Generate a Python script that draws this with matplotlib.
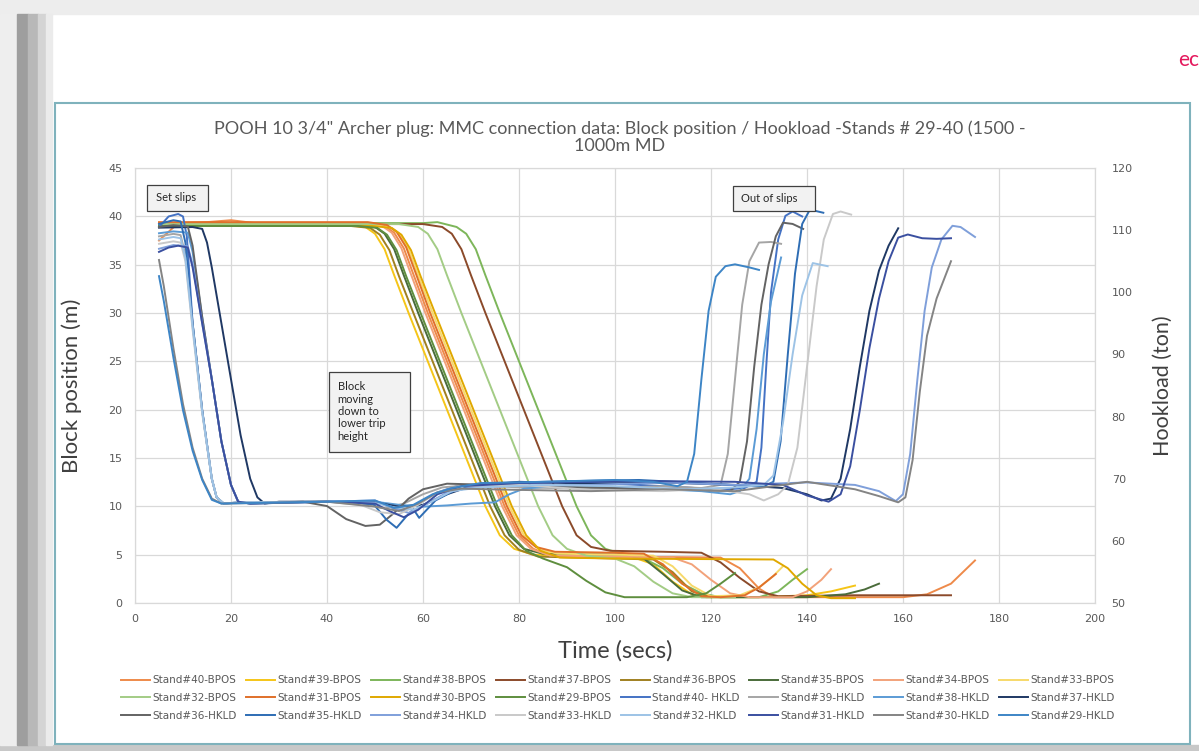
import matplotlib
matplotlib.use("Agg")
import matplotlib.pyplot as plt
from matplotlib.patches import Rectangle
from matplotlib.lines import Line2D

# ---- data: block position (m) per stand ----
t_bpos40 = [5, 7, 9, 15, 20, 25, 48, 52, 54, 56, 58, 61, 69, 77, 80, 83, 87, 100, 122, 126, 130, 133, 160, 165, 170, 175]
bpos40 = [37.5, 38.4, 39.3, 39.4, 39.6, 39.3, 39.3, 39.0, 38.3, 36.7, 34.0, 30.0, 20.0, 10.0, 7.0, 5.6, 4.9, 4.8, 4.7, 3.6, 1.5, 0.6, 0.6, 0.9, 2.0, 4.4]
t_bpos39 = [5, 44, 48, 50, 52, 54, 57, 65, 73, 76, 79, 83, 95, 104, 108, 112, 116, 119, 130, 140, 145, 150]
bpos39 = [39.1, 39.1, 38.9, 38.2, 36.6, 33.9, 30.0, 20.0, 10.0, 7.0, 5.6, 5.0, 4.8, 4.7, 4.0, 2.2, 0.9, 0.6, 0.6, 0.8, 1.2, 1.8]
t_bpos38 = [5, 60, 63, 67, 69, 71, 73, 76, 84, 92, 95, 98, 102, 106, 110, 114, 118, 122, 130, 134, 137, 140]
bpos38 = [39.3, 39.3, 39.4, 38.9, 38.2, 36.6, 33.9, 30.0, 20.0, 10.0, 7.0, 5.6, 5.0, 4.6, 3.6, 2.0, 1.0, 0.6, 0.6, 1.2, 2.4, 3.5]
t_bpos37 = [5, 60, 64, 66, 68, 70, 73, 81, 89, 92, 95, 99, 110, 118, 122, 126, 130, 134, 150, 170]
bpos37 = [39.2, 39.2, 38.9, 38.2, 36.6, 33.9, 30.0, 20.0, 10.0, 7.0, 5.8, 5.4, 5.3, 5.2, 4.2, 2.6, 1.2, 0.7, 0.8, 0.8]
t_bpos36 = [5, 45, 49, 51, 53, 55, 58, 66, 74, 77, 80, 84, 100, 108, 112, 116, 120]
bpos36 = [39.0, 39.0, 38.8, 38.1, 36.5, 33.8, 30.0, 20.0, 10.0, 7.0, 5.5, 4.8, 4.6, 4.5, 3.2, 1.2, 0.6]
t_bpos35 = [5, 46, 50, 52, 54, 56, 59, 67, 75, 78, 81, 85, 102, 106, 110, 114, 118, 140, 148, 152, 155]
bpos35 = [39.2, 39.2, 38.9, 38.2, 36.6, 33.9, 30.0, 20.0, 10.0, 7.0, 5.6, 5.1, 5.0, 4.6, 3.0, 1.3, 0.6, 0.6, 0.9, 1.4, 2.0]
t_bpos34 = [5, 47.5, 51.5, 53.5, 55.5, 57.5, 60.5, 68.5, 76.5, 79.5, 82.5, 86.5, 100, 112, 116, 120, 124, 128, 137, 140, 143, 145]
bpos34 = [39.3, 39.3, 39.0, 38.3, 36.7, 34.0, 30.0, 20.0, 10.0, 7.0, 5.6, 4.9, 4.8, 4.7, 4.0, 2.4, 1.0, 0.6, 0.6, 1.2, 2.4, 3.5]
t_bpos33 = [5, 49, 53, 55, 57, 59, 62, 70, 78, 81, 84, 88, 100, 108, 112, 116, 120, 126, 130, 133, 135]
bpos33 = [39.1, 39.1, 38.9, 38.2, 36.6, 33.9, 30.0, 20.0, 10.0, 7.0, 5.6, 5.1, 5.0, 4.9, 3.8, 1.8, 0.7, 0.8, 1.6, 2.8, 3.8]
t_bpos32 = [5, 55, 59, 61, 63, 65, 68, 76, 84, 87, 90, 94, 100, 104, 108, 112, 116, 125]
bpos32 = [39.2, 39.2, 38.9, 38.2, 36.6, 33.9, 30.0, 20.0, 10.0, 7.0, 5.6, 4.9, 4.6, 3.8, 2.2, 1.0, 0.6, 0.6]
t_bpos31 = [5, 48.5, 52.5, 54.5, 56.5, 58.5, 61.5, 69.5, 77.5, 80.5, 83.5, 87.5, 100, 106, 110, 114, 118, 122, 127, 130, 133.5]
bpos31 = [39.4, 39.4, 39.1, 38.4, 36.8, 34.1, 30.0, 20.0, 10.0, 7.0, 5.8, 5.3, 5.2, 5.1, 4.0, 2.0, 0.7, 0.6, 0.8, 1.6, 3.0]
t_bpos30 = [5, 49.5, 53.5, 55.5, 57.5, 59.5, 62.5, 70.5, 78.5, 81.5, 84.5, 88.5, 100, 133, 136, 139, 142, 145, 150]
bpos30 = [39.0, 39.0, 38.8, 38.1, 36.5, 33.8, 30.0, 20.0, 10.0, 7.0, 5.4, 4.7, 4.6, 4.5, 3.6, 2.0, 0.8, 0.5, 0.5]
t_bpos29 = [5, 46.5, 50.5, 52.5, 54.5, 56.5, 59.5, 67.5, 75.5, 78.5, 81.5, 85, 90, 94, 98, 102, 115, 119, 122, 125]
bpos29 = [39.0, 39.0, 38.8, 38.1, 36.5, 33.8, 30.0, 20.0, 10.0, 7.0, 5.4, 4.6, 3.7, 2.3, 1.1, 0.6, 0.6, 1.0, 2.0, 3.1]

# ---- data: hookload (ton) per stand ----
t_hkld40 = [5, 7, 9, 10, 10.8, 12, 14, 16, 17, 18.5, 22, 40, 50, 53, 56, 59, 63, 67, 75, 90, 105, 115, 122, 127, 129.5, 130.5, 131.5, 132.5, 134, 135.5, 137, 139]
hkld40 = [110.5, 112.2, 112.6, 112.2, 109, 95, 81, 70, 67, 66, 66.2, 66.3, 66.4, 65.5, 64.8, 66, 67.8, 68.8, 69.2, 69.5, 69.0, 68.6, 68.2, 68.5, 69.5, 75, 88, 100, 108.5, 112.3, 113, 112.2]
t_hkld39 = [5, 8, 9.5, 10.5, 12, 14, 16, 17, 18.5, 22, 40, 48, 52, 56, 60, 64, 70, 80, 95, 110, 118, 122, 123.5, 125, 126.5, 128, 130, 132.5, 134.6]
hkld39 = [109.0, 109.4, 109.2, 106, 95, 81, 70, 67, 66, 66.2, 66.3, 66.0, 65.2, 66.0, 67.5, 68.6, 69.0, 68.6, 68.4, 68.8, 68.5, 69, 74, 86, 98, 105, 108, 108.1, 107.8]
t_hkld38 = [5, 8, 11, 12, 14, 16, 18, 20, 21.5, 24, 40, 50, 55, 60, 65, 70, 75, 78, 81, 90, 105, 118, 124, 126, 128, 129.5, 131, 132.5, 134.6]
hkld38 = [109.5, 109.8, 109.6, 106.5, 96, 86, 76, 69, 66.3, 66.0, 66.3, 66.3, 65.8, 65.5, 65.7, 66.0, 66.2, 67.5, 68.4, 69.0, 68.5, 68.0, 67.5, 68, 70, 78, 90, 98.5, 105.6]
t_hkld37 = [5, 12, 14, 15, 16, 18, 20, 22, 24, 25.5, 27, 30, 40, 50, 55, 60, 65, 70, 80, 95, 110, 125, 135, 140, 143, 145, 147, 149, 151, 153, 155, 157, 159]
hkld37 = [110.4, 110.5, 110.2, 108, 104, 95, 86, 77, 70, 67, 66, 66.3, 66.3, 66.2, 65.5, 65.8, 67.5, 68.8, 69.5, 69.2, 69.4, 69.0, 68.5, 67.5, 66.5, 66.8, 70, 78, 88, 97, 103.5, 107.5, 110.3]
t_hkld36 = [5, 8, 11, 12, 14, 16, 18, 20, 21.5, 24, 35, 40, 44, 48, 51, 54, 57, 60, 65, 75, 90, 105, 118, 124, 126, 127.5, 129, 130.5, 132, 133.5, 135, 137, 139.2]
hkld36 = [110.5, 110.8, 110.6, 107.5, 96, 86, 76, 69, 66.3, 66.0, 66.3, 65.6, 63.5, 62.4, 62.6, 64.5, 66.8, 68.3, 69.2, 69.0, 68.7, 68.4, 68.2, 68, 69.5, 76, 88, 98, 104.5, 109, 111.2, 111, 110.2]
t_hkld35 = [5, 8, 9.5, 10.5, 12, 14, 16, 17, 18.5, 22, 40, 49.7, 52.4, 54.5, 56.6, 58, 59.2, 62.6, 66.8, 75, 90, 105, 120, 128, 131, 133, 134.5, 136, 137.5, 139, 140.6, 143.4]
hkld35 = [111.0, 111.6, 111.4, 108, 95, 81, 70, 67, 66, 66.2, 66.3, 65.9, 63.4, 62.1, 64.0, 65.1, 63.7, 66.5, 68.2, 69.3, 69.6, 69.8, 69.2, 68.8, 68.8, 69.5, 76, 90, 103, 111, 113.3, 112.8]
t_hkld34 = [5, 8, 11, 12, 14, 16, 18, 20, 21.5, 24, 40, 50, 53, 57, 61, 65, 70, 80, 95, 110, 125, 140, 150, 155, 158.5, 160, 161.5, 163, 164.5, 166, 168, 170.3, 172, 175]
hkld34 = [107.0, 107.6, 107.4, 104.5, 95, 86, 76, 69, 66.3, 66.0, 66.3, 66.5, 65.5, 64.5, 66.0, 67.8, 68.6, 68.9, 69.0, 69.4, 69.0, 69.4, 69.0, 68.0, 66.4, 67.5, 74, 86, 97, 104, 108.5, 110.7, 110.5, 108.9]
t_hkld33 = [5, 8, 9.5, 10.5, 12, 14, 16, 17, 18.5, 22, 40, 47, 51, 55, 59, 63, 68, 80, 95, 110, 120, 128, 131, 134, 136, 138, 140, 142, 143.5, 145.4, 147, 149.2]
hkld33 = [107.8, 108.2, 108.0, 105, 94, 80.5, 70, 67, 66, 66.2, 66.3, 65.8, 64.6, 64.3, 65.8, 67.8, 68.8, 69.0, 68.2, 68.0, 68.4, 67.5, 66.5, 67.5, 69, 75, 88, 101, 108.5, 112.6, 113, 112.5]
t_hkld32 = [5, 8, 9.5, 10.5, 12, 14, 16, 17, 18.5, 22, 40, 50, 54, 58, 62, 66, 72, 85, 100, 115, 125, 131, 133, 135, 137, 139, 141.2, 144.3]
hkld32 = [108.5, 108.9, 108.7, 105.5, 94.5, 80.8, 70, 67, 66, 66.2, 66.3, 66.1, 65.4, 65.0, 66.4, 68.0, 68.6, 69.0, 68.8, 68.3, 68.6, 69, 70.5, 79, 90, 99.5, 104.7, 104.2]
t_hkld31 = [5, 7, 9, 11, 12, 14, 16, 18, 20, 21.5, 24, 40, 50, 53, 56, 59, 63, 68, 80, 95, 110, 125, 135, 140, 144.5, 147, 149, 151, 153, 155, 157, 159, 161, 164, 167, 170]
hkld31 = [106.5, 107.2, 107.5, 107.2, 104, 95, 86, 76, 69, 66.3, 66.0, 66.3, 66.0, 64.8, 63.8, 65.0, 67.5, 68.8, 69.3, 69.5, 69.6, 69.5, 69.0, 67.3, 66.3, 67.5, 72, 81, 91, 99, 105, 108.8, 109.3, 108.7, 108.6, 108.7]
t_hkld30 = [5, 6, 8, 10, 12, 14, 16, 18, 40, 50, 55, 59, 63, 68, 80, 95, 110, 125, 140, 150, 155, 159, 160.5, 162, 163.5, 165, 167, 170]
hkld30 = [105.2, 101, 91, 82, 75, 70, 66.8, 66.0, 66.3, 65.5, 64.8, 66.0, 67.8, 68.4, 68.2, 68.0, 68.3, 68.0, 69.5, 68.3, 67.2, 66.2, 67, 73, 84, 93, 99, 105]
t_hkld29 = [5, 6, 8, 10, 12, 14, 16, 18, 40, 50, 54, 58, 62, 66, 72, 85, 100, 108, 113, 115, 116.5, 118, 119.5, 121, 123, 125, 128, 130]
hkld29 = [102.6, 98.6, 89.5, 81, 74.5, 69.8, 66.6, 66.0, 66.3, 66.5, 65.3, 65.8, 67.5, 68.5, 69.3, 69.5, 69.8, 69.5, 68.8, 69.5, 74, 86, 97, 102.5, 104.2, 104.5, 104.0, 103.6]

stands = [40, 39, 38, 37, 36, 35, 34, 33, 32, 31, 30, 29]
bpos_series = [(t_bpos40, bpos40), (t_bpos39, bpos39), (t_bpos38, bpos38), (t_bpos37, bpos37),
               (t_bpos36, bpos36), (t_bpos35, bpos35), (t_bpos34, bpos34), (t_bpos33, bpos33),
               (t_bpos32, bpos32), (t_bpos31, bpos31), (t_bpos30, bpos30), (t_bpos29, bpos29)]
hkld_series = [(t_hkld40, hkld40), (t_hkld39, hkld39), (t_hkld38, hkld38), (t_hkld37, hkld37),
               (t_hkld36, hkld36), (t_hkld35, hkld35), (t_hkld34, hkld34), (t_hkld33, hkld33),
               (t_hkld32, hkld32), (t_hkld31, hkld31), (t_hkld30, hkld30), (t_hkld29, hkld29)]
bpos_colors = ['#EE8A4A', '#F5C518', '#7DB65A', '#8B4A2A', '#A08020', '#4A6B3A',
               '#F2A27A', '#F7D96A', '#A3CC85', '#E0702A', '#E0A800', '#5E8E3E']
hkld_colors = ['#4472C4', '#A5A5A5', '#5B9BD5', '#1F3864', '#636363', '#2E6DB4',
               '#7F9FDA', '#C9C9C9', '#9DC3E6', '#3A4FA0', '#848484', '#3D85C6']

W, H = 1199, 751
fig = plt.figure(figsize=(W / 100, H / 100), dpi=100)
fig.patch.set_facecolor('white')

# slide frame around the chart
fig.patches.append(Rectangle((0, 1 - 14 / H), 1, 14 / H, transform=fig.transFigure, color='#EDEDED', zorder=0))
fig.patches.append(Rectangle((0, 0), 1, 6 / H, transform=fig.transFigure, color='#C8C8C8', zorder=0))
for x0, x1, c in [(0, 17, '#EEEEEE'), (17, 28, '#9E9E9E'), (28, 38, '#B8B8B8'), (38, 46, '#D4D4D4'), (46, 52, '#EBEBEB')]:
    fig.patches.append(Rectangle((x0 / W, 6 / H), (x1 - x0) / W, 1 - 20 / H, transform=fig.transFigure, color=c, zorder=0))
fig.patches.append(Rectangle((55 / W, 1 - 744 / H), 1135 / W, 641 / H, transform=fig.transFigure,
                             fill=False, ec='#7FB2BC', lw=1.5, zorder=1))
fig.text(1178 / W, 1 - 60 / H, 'ec', color='#E4185C', fontsize=15, family='Lato', va='center', ha='left')

ax = fig.add_axes([135 / W, 1 - 603 / H, 960 / W, 435 / H])
ax2 = ax.twinx()

handles = []
labels = []
for s, (t, v), c in zip(stands, bpos_series, bpos_colors):
    ax.plot(t, v, color=c, lw=1.4)
    handles.append(Line2D([], [], color=c, lw=1.4))
    labels.append(f'Stand#{s}-BPOS')
for s, (t, h), c in zip(stands, hkld_series, hkld_colors):
    ax2.plot(t, h, color=c, lw=1.4)
    handles.append(Line2D([], [], color=c, lw=1.4))
    labels.append(f'Stand#{s}- HKLD' if s == 40 else f'Stand#{s}-HKLD')

ax.set_xlim(0, 200)
ax.set_ylim(0, 45)
ax2.set_ylim(50, 120)
ax.set_xticks(range(0, 201, 20))
ax.set_yticks(range(0, 46, 5))
ax2.set_yticks(range(50, 121, 10))
ax.grid(True, color='#D9D9D9', lw=0.9)
for a in (ax, ax2):
    for sp in a.spines.values():
        sp.set_color('#D9D9D9')
ax.tick_params(axis='both', length=0, labelsize=8, labelcolor='#595959')
ax.tick_params(axis='y', pad=9)
ax.tick_params(axis='x', pad=8)
ax2.tick_params(axis='y', length=0, labelsize=8, labelcolor='#595959', pad=12)

ax.set_ylabel('Block position (m)', family='Lato', fontsize=16, color='#404040')
ax.yaxis.set_label_coords(-0.055, 0.5)
ax2.set_ylabel('Hookload (ton)', family='Lato', fontsize=15.5, color='#404040', rotation=90)
ax2.yaxis.set_label_coords(1.06, 0.5)
ax.set_xlabel('Time (secs)', family='Lato', fontsize=17, color='#404040')
ax.xaxis.set_label_coords(0.5, -0.085)

fig.text(620 / W, 1 - 137 / H,
         'POOH 10 3/4" Archer plug: MMC connection data: Block position / Hookload -Stands # 29-40 (1500 -\n1000m MD',
         ha='center', va='center', family='Lato', fontsize=13, color='#595959', linespacing=1.1)

# annotation boxes
boxes = [(2.5, 40.6, 12.7, 2.6, 'Set slips', 4.3, 41.9),
         (124.6, 40.5, 17.1, 2.6, 'Out of slips', 126.2, 41.8),
         (40.4, 15.6, 16.9, 8.3, 'Block\nmoving\ndown to\nlower trip\nheight', 42.2, 19.8)]
for x0, y0, w, h, txt, tx, ty in boxes:
    ax2.add_patch(Rectangle((x0, y0), w, h, transform=ax.transData, fc='#F2F2F2', ec='#404040', lw=0.9, zorder=5))
    ax2.text(tx, ty, txt, transform=ax.transData, ha='left', va='center', family='Lato', fontsize=8,
             color='#262626', zorder=6, linespacing=1.15)

order = [r * 8 + c for c in range(8) for r in range(3)]
leg = fig.legend([handles[i] for i in order], [labels[i] for i in order], loc='center',
                 bbox_to_anchor=(618 / W, 1 - 698 / H), ncol=8, frameon=False, fontsize=7.5,
                 handlelength=2.8, handletextpad=0.2, columnspacing=0.9, labelspacing=0.75)
for txt in leg.get_texts():
    txt.set_color('#595959')

fig.savefig('out.png', dpi=100)
